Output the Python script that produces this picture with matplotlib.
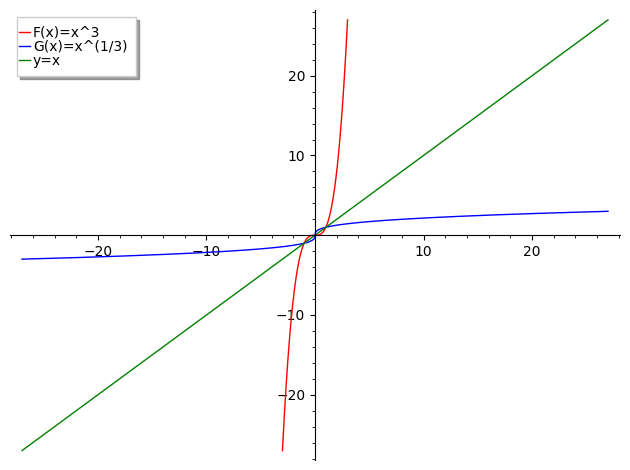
import numpy as np
import matplotlib.pyplot as plt
from matplotlib.ticker import MultipleLocator
from matplotlib.legend_handler import HandlerLine2D
from matplotlib.lines import Line2D

# plotted ranges for each function
f_range = (-3, 3)
g_range = (-27, 27)
id_range = (-27, 27)
labels = ["F(x)=x^3", "G(x)=x^(1/3)", "y=x"]
colors = ["red", "blue", "green"]


class ShortHandle(HandlerLine2D):
    # short legend line pushed to the left edge of the frame (sage-like)
    def create_artists(self, legend, orig_handle, xdescent, ydescent,
                       width, height, fontsize, trans):
        x0 = -xdescent - 4.9
        y = height / 2 - ydescent
        line = Line2D([x0, x0 + 8.3], [y, y], color=orig_handle.get_color(),
                      lw=orig_handle.get_linewidth())
        line.set_transform(trans)
        return [line]


fig = plt.figure(figsize=(6.3, 4.7), dpi=100)
ax = fig.add_axes([0.016, 0.021, 0.968, 0.957])

x1 = np.linspace(*f_range, 400)
ax.plot(x1, x1 ** 3, color=colors[0], lw=1, label=labels[0])
x2 = np.linspace(*g_range, 800)
ax.plot(x2, np.cbrt(x2), color=colors[1], lw=1, label=labels[1])
x3 = np.linspace(*id_range, 2)
ax.plot(x3, x3, color=colors[2], lw=1, label=labels[2])

ax.set_xlim(-28.1, 28.1)
ax.set_ylim(-28.2, 28.2)

ax.spines['left'].set_position(('data', 0))
ax.spines['bottom'].set_position(('data', 0))
ax.spines['top'].set_visible(False)
ax.spines['right'].set_visible(False)

ax.xaxis.set_major_locator(MultipleLocator(10))
ax.xaxis.set_minor_locator(MultipleLocator(2))
ax.yaxis.set_major_locator(MultipleLocator(10))
ax.yaxis.set_minor_locator(MultipleLocator(2))

for lab in ax.get_xticklabels() + ax.get_yticklabels():
    lab.set_fontsize(10)
ax.xaxis.set_major_formatter(plt.FuncFormatter(lambda v, p: "" if v == 0 else f"{v:.0f}".replace("-", "\u2212")))
ax.yaxis.set_major_formatter(plt.FuncFormatter(lambda v, p: "" if v == 0 else f"{v:.0f}".replace("-", "\u2212")))

leg = ax.legend(loc='upper left', bbox_to_anchor=(0.0, 1.0), shadow=True, fancybox=False,
                handlelength=0.55, handletextpad=0.0, borderpad=0.6, labelspacing=0.0,
                borderaxespad=0.5, fontsize=10, handler_map={Line2D: ShortHandle()})
leg.get_frame().set_edgecolor('#cccccc')

fig.savefig("out.png")
